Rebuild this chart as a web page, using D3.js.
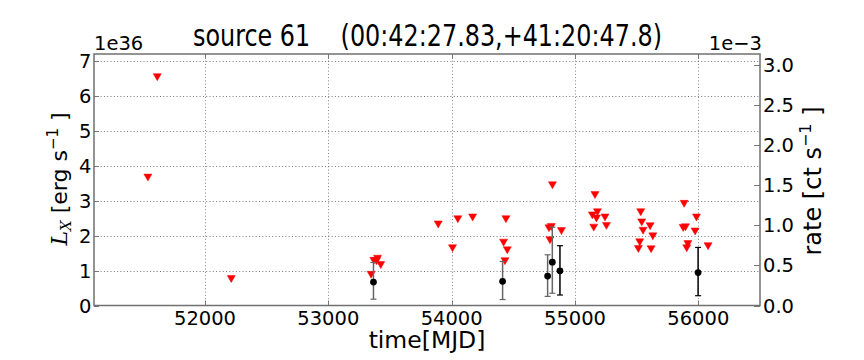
<!DOCTYPE html>
<html>
<head>
<meta charset="utf-8">
<script src="https://cdn.jsdelivr.net/npm/d3@7"></script>
<style>
  body { margin: 0; background: #fff; }
  svg text { font-family: "DejaVu Sans", sans-serif; fill: #000; }
</style>
</head>
<body>
<script>
// chart data (Lx in units of 1e36 erg/s)
const titleText = 'source 61    (00:42:27.83,+41:20:47.8)';
const xTicks = [52000, 53000, 54000, 55000, 56000];
const lxTicks = [0, 1, 2, 3, 4, 5, 6, 7];
const rateTicks = [0.0, 0.5, 1.0, 1.5, 2.0, 2.5, 3.0]; // 1e-3 ct/s

// upper limits (red triangles)
const ulMJD = [51537, 51613, 52213,
  53347, 53369, 53399, 53390, 53425,
  53891, 54007, 54050, 54170, 54440, 54421, 54451, 54432,
  54817, 54789, 54808, 54797, 54890,
  55162, 55141, 55182, 55174, 55152, 55243, 55255,
  55533, 55541, 55552, 55525, 55514, 55609, 55631, 55617,
  55885, 55985, 55877, 55896, 55974, 55915, 55906, 56079];
const ulLx = [3.69, 6.56, 0.79,
  0.91, 1.31, 1.37, 1.30, 1.19,
  2.35, 1.67, 2.50, 2.55, 2.50, 1.83, 1.61, 1.30,
  3.47, 2.24, 2.28, 1.90, 2.16,
  3.19, 2.61, 2.70, 2.52, 2.26, 2.55, 2.31,
  2.70, 2.41, 2.17, 1.84, 1.65, 2.30, 2.01, 1.64,
  2.94, 2.55, 2.25, 2.27, 2.15, 1.79, 1.67, 1.73];

// detections with grey error bars
const detAMJD = [53366, 54413, 54778, 54816];
const detALx = [0.67, 0.69, 0.84, 1.24];
const detALo = [0.18, 0.17, 0.26, 0.35];
const detAHi = [1.23, 1.26, 1.45, 2.24];

// detections with black error bars
const detBMJD = [54878, 55998];
const detBLx = [0.99, 0.94];
const detBLo = [0.30, 0.28];
const detBHi = [1.71, 1.66];

const W = 864, H = 360;
const m = { left: 94, right: 760, top: 54, bottom: 305.5 };

const svg = d3.select('body').append('svg')
  .attr('width', W)
  .attr('height', H);

const x = d3.scaleLinear().domain([51100, 56500]).range([m.left, m.right]);
const y = d3.scaleLinear().domain([0, 7.19]).range([m.bottom, m.top]);
const yr = d3.scaleLinear().domain([0, 3.136]).range([m.bottom, m.top]);

// grid
const grid = svg.append('g');
grid.selectAll('.gx').data(xTicks).enter().append('line')
  .attr('x1', d => Math.round(x(d)) + 0.5).attr('x2', d => Math.round(x(d)) + 0.5)
  .attr('y1', m.top).attr('y2', m.bottom)
  .attr('stroke', '#666').attr('stroke-width', 0.8)
  .attr('stroke-dasharray', '1,2.3');
grid.selectAll('.gy').data(lxTicks.slice(1)).enter().append('line')
  .attr('x1', m.left).attr('x2', m.right)
  .attr('y1', d => Math.round(y(d)) + 0.5).attr('y2', d => Math.round(y(d)) + 0.5)
  .attr('stroke', '#555').attr('stroke-width', 0.8)
  .attr('stroke-dasharray', '1,2.3');

// ticks (inside)
const tk = svg.append('g').attr('stroke', '#777').attr('stroke-width', 1);
xTicks.forEach(d => {
  const px = Math.round(x(d)) + 0.5;
  tk.append('line').attr('x1', px).attr('x2', px).attr('y1', m.bottom).attr('y2', m.bottom - 5);
  tk.append('line').attr('x1', px).attr('x2', px).attr('y1', m.top).attr('y2', m.top + 5);
});
lxTicks.forEach(d => {
  const py = Math.round(y(d)) + 0.5;
  tk.append('line').attr('x1', m.left).attr('x2', m.left + 5).attr('y1', py).attr('y2', py);
});
rateTicks.forEach(d => {
  const py = Math.round(yr(d)) + 0.5;
  tk.append('line').attr('x1', m.right).attr('x2', m.right - 6).attr('y1', py).attr('y2', py);
});

// upper limits
const tri = d3.symbol().type(d3.symbolTriangle).size(28);
svg.append('g').selectAll('path').data(ulMJD).enter().append('path')
  .attr('d', tri)
  .attr('transform', (d, i) => `translate(${x(d)},${y(ulLx[i])}) rotate(180)`)
  .attr('fill', '#ff0000')
  .attr('stroke', '#ff0000').attr('stroke-width', 0.5);

// detections with error bars
function drawDet(mjd, lx, lo, hi, barColor) {
  const g = svg.append('g');
  mjd.forEach((d, i) => {
    const px = x(d);
    g.append('line').attr('x1', px).attr('x2', px)
      .attr('y1', y(lo[i])).attr('y2', y(hi[i]))
      .attr('stroke', barColor).attr('stroke-width', 1.5);
    [lo[i], hi[i]].forEach(v => {
      g.append('line').attr('x1', px - 3).attr('x2', px + 3)
        .attr('y1', y(v)).attr('y2', y(v))
        .attr('stroke', barColor).attr('stroke-width', 1.2);
    });
    g.append('circle').attr('cx', px).attr('cy', y(lx[i])).attr('r', 3.4)
      .attr('fill', '#000');
  });
}
drawDet(detAMJD, detALx, detALo, detAHi, '#666');
drawDet(detBMJD, detBLx, detBLo, detBHi, '#000');

// frame
svg.append('rect')
  .attr('x', m.left).attr('y', m.top)
  .attr('width', m.right - m.left).attr('height', m.bottom - m.top)
  .attr('fill', 'none').attr('stroke', '#707070').attr('stroke-width', 1.5);

// tick labels
svg.append('g').selectAll('text').data(xTicks).enter().append('text')
  .attr('x', d => x(d)).attr('y', 325)
  .attr('text-anchor', 'middle').attr('font-size', 19.5)
  .text(d => d);
svg.append('g').selectAll('text').data(lxTicks).enter().append('text')
  .attr('x', m.left - 2.5).attr('y', d => y(d) + 7)
  .attr('text-anchor', 'end').attr('font-size', 19.5)
  .text(d => d);
svg.append('g').selectAll('text').data(rateTicks).enter().append('text')
  .attr('x', m.right + 3).attr('y', d => yr(d) + 7)
  .attr('text-anchor', 'start').attr('font-size', 19.5)
  .text(d => d.toFixed(1));

// offsets
svg.append('text').attr('x', m.left).attr('y', 50)
  .attr('font-size', 19.5).text('1e36');
svg.append('text').attr('x', m.right + 2).attr('y', 50)
  .attr('text-anchor', 'end').attr('font-size', 19.5).text('1e\u22123');

// title (narrow face in the reference, so squeeze it)
svg.append('text').attr('x', 193).attr('y', 46)
  .attr('font-size', 30)
  .attr('textLength', 469).attr('lengthAdjust', 'spacingAndGlyphs')
  .attr('xml:space', 'preserve').style('white-space', 'pre')
  .text(titleText);

// axis labels
svg.append('text').attr('x', (m.left + m.right) / 2).attr('y', 348)
  .attr('text-anchor', 'middle').attr('font-size', 23.5)
  .text('time[MJD]');

const yl = svg.append('text')
  .attr('transform', `translate(67,179) rotate(-90)`)
  .attr('text-anchor', 'middle').attr('font-size', 22);
yl.append('tspan').attr('font-family', 'DejaVu Serif').attr('font-style', 'italic').text('L');
yl.append('tspan').attr('font-family', 'DejaVu Serif').attr('font-style', 'italic')
  .attr('font-size', 15).attr('dy', 4).text('X');
yl.append('tspan').attr('dy', -4).text(' [erg s');
yl.append('tspan').attr('font-size', 15).attr('dy', -9).text('\u22121');
yl.append('tspan').attr('dy', 9).text(' ]');

const rl = svg.append('text')
  .attr('transform', `translate(821,181) rotate(-90)`)
  .attr('text-anchor', 'middle').attr('font-size', 24);
rl.append('tspan').text('rate [ct s');
rl.append('tspan').attr('font-size', 16).attr('dy', -10).text('\u22121');
rl.append('tspan').attr('dy', 10).text(' ]');
</script>
</body>
</html>
